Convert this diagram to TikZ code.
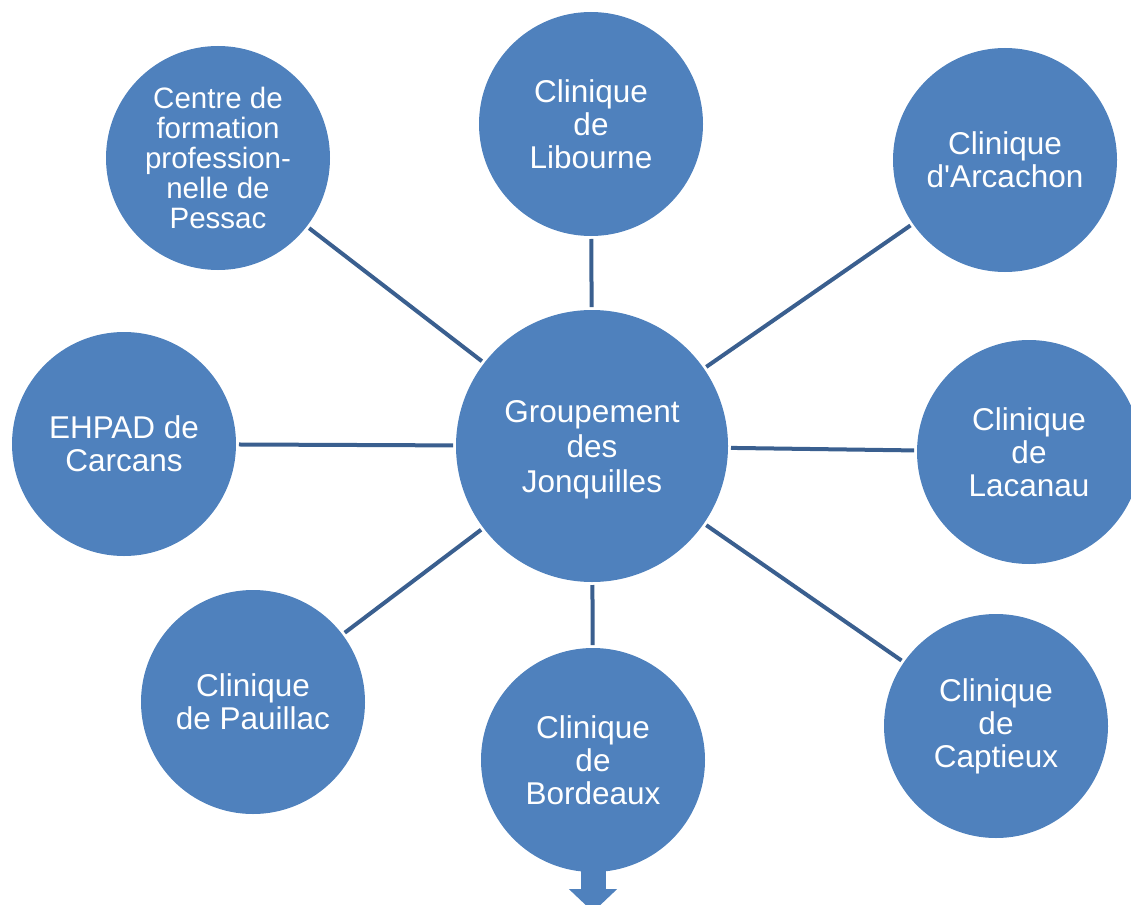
\documentclass[tikz,border=0pt]{standalone}
\usepackage{fontspec}
\setmainfont{Liberation Sans}
\usetikzlibrary{arrows.meta,backgrounds}

\definecolor{bubblefill}{HTML}{4F81BD}
\definecolor{linkblue}{HTML}{3A5F8F}

\begin{document}
\begin{tikzpicture}[x=1pt,y=-1pt]
\tikzset{bubble/.style = {circle, fill=bubblefill, text=white, align=center,
  minimum size=224pt, inner sep=0pt, outer sep=3pt,
  font=\fontsize{31.5}{33}\selectfont}}
\tikzset{link/.style = {draw=linkblue, line width=4pt}}
\pgfdeclarelayer{background}
\pgfsetlayers{background,main}

  \useasboundingbox (0,0) rectangle (1131,904);

  \node[bubble, minimum size=272pt, font=\fontsize{31.5}{35}\selectfont,
    text depth=-6pt] (groupement) at (592,446) {Groupement\\des\\Jonquilles};

  \node[bubble] (libourne) at (591,124) {Clinique\\de\\Libourne};
  \node[bubble, font=\fontsize{29.5}{30}\selectfont] (pessac) at (218,158)
    {Centre de\\formation\\profession-\\nelle de\\Pessac};
  \node[bubble] (arcachon) at (1005,160) {Clinique\\d\textquotesingle Arcachon};
  \node[bubble] (ehpad) at (124,444) {EHPAD de\\Carcans};
  \node[bubble] (lacanau) at (1029,452) {Clinique\\de\\Lacanau};
  \node[bubble] (pauillac) at (253,702) {Clinique\\de Pauillac};
  \node[bubble] (bordeaux) at (593,760) {Clinique\\de\\Bordeaux};
  \node[bubble] (captieux) at (996,726) {Clinique\\de\\Captieux};

  \draw[link] (groupement) -- (libourne);
  \draw[link] (groupement) -- (pessac);
  \draw[link] (groupement) -- (arcachon);
  \draw[link] (groupement) -- (ehpad);
  \draw[link] (groupement) -- (lacanau);
  \draw[link] (groupement) -- (pauillac);
  \draw[link] (groupement) -- (bordeaux);
  \draw[link] (groupement) -- (captieux);

  \begin{pgfonlayer}{background}
  \coordinate (arrowtip) at (593,912);
  \draw[bubblefill, line width=25pt,
    -{Triangle[length=23pt,width=47pt]}] (bordeaux.center) -- (arrowtip);
  \end{pgfonlayer}

\end{tikzpicture}
\end{document}
